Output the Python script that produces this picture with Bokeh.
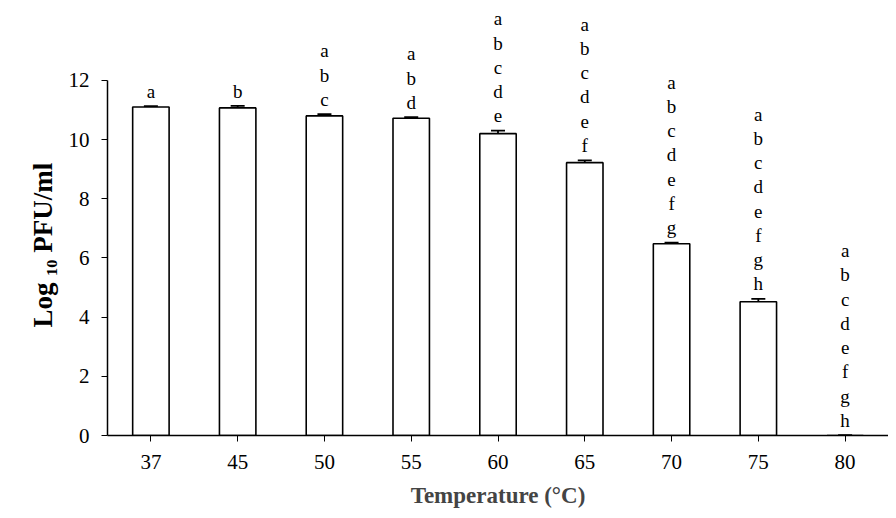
from bokeh.plotting import figure
from bokeh.models import ColumnDataSource, Range1d, Whisker, FactorRange, Title
from bokeh.core.properties import value
from bokeh.embed import file_html
from bokeh.resources import INLINE

temps = ["37", "45", "50", "55", "60", "65", "70", "75", "80"]
log_pfu = [11.1, 11.07, 10.8, 10.72, 10.2, 9.22, 6.48, 4.52, 0.0]
err = [0.03, 0.07, 0.06, 0.04, 0.1, 0.08, 0.04, 0.1, 0.01]
letters = [["a"], ["b"], ["a", "b", "c"], ["a", "b", "d"],
           ["a", "b", "c", "d", "e"], ["a", "b", "c", "d", "e", "f"],
           ["a", "b", "c", "d", "e", "f", "g"],
           ["a", "b", "c", "d", "e", "f", "g", "h"],
           ["a", "b", "c", "d", "e", "f", "g", "h"]]

SERIF = "Liberation Serif"

p = figure(x_range=FactorRange(*temps), y_range=Range1d(0, 14.7),
           width=888, height=510, output_backend="svg", toolbar_location=None,
           min_border_left=107, min_border_right=0, min_border_top=0, min_border_bottom=70)
p.outline_line_color = None
p.grid.visible = False
p.background_fill_color = "white"

src = ColumnDataSource(dict(x=temps, top=log_pfu,
                            upper=[v + e for v, e in zip(log_pfu, err)],
                            lower=[v - e for v, e in zip(log_pfu, err)]))
p.vbar(x="x", top="top", width=0.42, source=src, fill_color="white",
       line_color="black", line_width=1.6)
w = Whisker(base="x", upper="upper", lower="lower", source=src,
            line_color="black", line_width=1.8)
w.upper_head.size = 14
w.lower_head.size = 14
w.upper_head.line_width = 1.8
w.lower_head.line_width = 1.8
p.add_layout(w)

gap = 0.5
step = 0.82
lx, ly, lt = [], [], []
for t, v, e, ls in zip(temps, log_pfu, err, letters):
    n = len(ls)
    for i, l in enumerate(ls):
        lx.append(t)
        ly.append(v + e + gap + (n - 1 - i) * step)
        lt.append(l)
p.text(x=lx, y=ly, text=lt, text_align="center", text_baseline="alphabetic",
       text_font=value(SERIF), text_font_size="19px", text_color="black")

p.yaxis.bounds = (0, 12)
p.yaxis.ticker = [0, 2, 4, 6, 8, 10, 12]
p.yaxis.minor_tick_line_color = None
p.yaxis.major_tick_in = 0
p.yaxis.major_tick_out = 6
p.yaxis.major_label_standoff = 12
p.yaxis.major_label_text_font = SERIF
p.yaxis.major_label_text_font_size = "21px"
p.yaxis.major_label_text_color = "black"
p.yaxis.axis_line_width = 1.5

ytitle = Title(text="Log \u2081\u2080 PFU/ml", align="left", offset=108,
               text_font=SERIF, text_font_style="bold", text_font_size="27px",
               text_color="black", standoff=16)
p.add_layout(ytitle, "left")

p.xaxis.major_tick_in = 0
p.xaxis.major_tick_out = 6
p.xaxis.major_label_standoff = 13
p.xaxis.major_label_text_font = SERIF
p.xaxis.major_label_text_font_size = "21px"
p.xaxis.major_label_text_color = "black"
p.xaxis.axis_line_width = 1.5
p.xaxis.axis_label = "Temperature (\u00b0C)"
p.xaxis.axis_label_text_font = SERIF
p.xaxis.axis_label_text_font_style = "bold"
p.xaxis.axis_label_text_font_size = "23px"
p.xaxis.axis_label_standoff = 11

open("out.html", "w").write(file_html(p, INLINE))
